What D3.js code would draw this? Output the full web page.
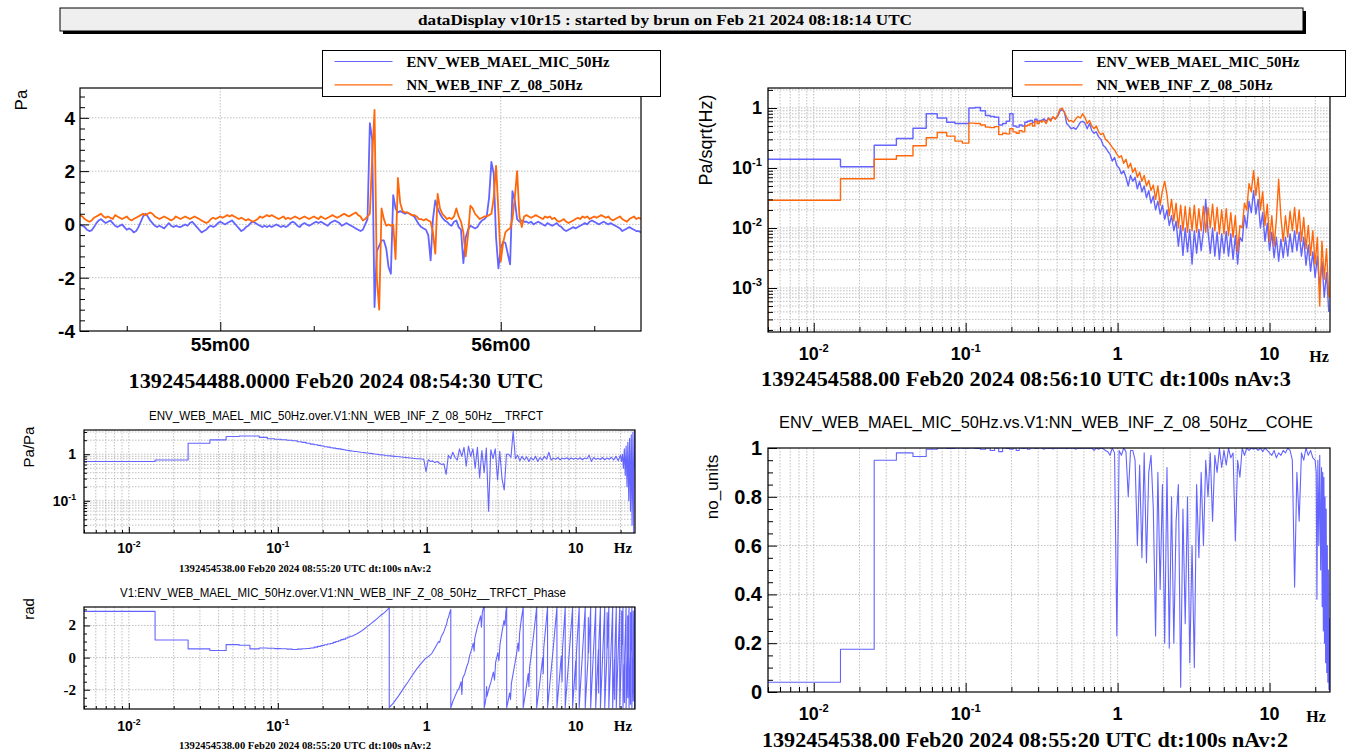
<!DOCTYPE html>
<html>
<head>
<meta charset="utf-8">
<script src="https://cdn.jsdelivr.net/npm/d3@7"></script>
<style>
  body { margin: 0; background: #fff; }
  svg { display: block; }
</style>
</head>
<body>
<svg id="chart" width="1348" height="754"></svg>
<script>
// ---------------- time series (Pa), 0.5 s sampling from 08:54:30 UTC ----------------
const TS_STEP = 0.5;
const micPa = [
  0.0,-0.05,-0.1,-0.2,-0.25,-0.22,-0.1,0.05,0.15,0.2,
  0.12,0.05,0.1,0.15,0.05,-0.05,-0.1,-0.05,0.0,-0.1,
  -0.2,-0.15,-0.2,-0.3,-0.25,-0.1,0.1,0.3,0.4,0.3,
  0.15,0.05,-0.05,-0.1,-0.05,-0.1,-0.15,-0.05,0.05,-0.05,
  -0.1,-0.05,-0.08,-0.1,-0.05,0.0,-0.05,0.05,0.1,0.0,
  -0.1,-0.2,-0.3,-0.25,-0.2,-0.1,-0.05,-0.1,-0.05,0.05,
  0.1,0.05,0.0,0.05,0.1,0.15,0.05,-0.05,-0.15,-0.25,
  -0.2,-0.1,-0.05,0.05,0.1,0.05,0.0,-0.05,-0.1,-0.05,
  -0.1,-0.05,-0.1,-0.05,0.0,-0.05,-0.1,-0.05,-0.1,-0.05,
  0.05,0.1,0.05,-0.05,-0.1,0.0,0.05,0.0,-0.05,0.0,
  0.05,0.1,0.05,0.1,0.05,0.0,-0.05,0.05,0.1,0.15,
  0.1,0.05,-0.05,0.0,0.05,0.0,-0.05,-0.1,-0.15,-0.2,
  -0.25,-0.2,0.0,0.2,3.8,3.2,-3.1,-1.0,-0.8,-0.6,
  -0.6,-0.9,-1.6,-1.85,1.1,0.6,0.45,0.5,0.45,0.4,
  0.45,0.4,0.35,0.3,0.15,0.0,-0.1,-0.15,-0.2,-0.4,
  -1.35,0.2,0.9,0.6,0.4,0.25,0.15,0.1,0.0,-0.05,
  0.1,0.15,-0.1,-0.2,-1.45,-0.5,-0.2,-0.05,-0.1,-0.15,
  -0.1,0.05,0.15,0.2,0.3,1.0,2.35,1.9,-0.5,-1.65,
  -0.9,-0.65,-0.7,-1.1,-1.5,1.25,0.9,0.2,0.1,0.15,
  0.1,0.1,0.05,0.1,0.0,0.05,0.1,0.05,0.0,-0.05,
  0.05,0.0,-0.05,0.0,0.05,-0.05,-0.1,-0.2,-0.25,-0.2,
  -0.15,-0.1,-0.15,-0.1,-0.05,0.0,0.05,0.0,0.1,0.15,
  0.1,0.05,0.0,0.05,0.1,0.05,0.0,0.05,0.0,-0.05,
  -0.1,-0.15,-0.25,-0.2,-0.15,-0.1,-0.15,-0.2,-0.25,-0.25,
  -0.3
];
const nnPa = [
  0.35,0.3,0.2,0.15,0.1,0.15,0.25,0.3,0.35,0.4,
  0.3,0.25,0.3,0.25,0.2,0.35,0.3,0.25,0.2,0.25,
  0.3,0.2,0.15,0.2,0.25,0.3,0.35,0.4,0.35,0.4,
  0.45,0.4,0.3,0.25,0.2,0.25,0.3,0.25,0.2,0.15,
  0.2,0.3,0.25,0.2,0.25,0.3,0.25,0.2,0.25,0.3,
  0.25,0.2,0.15,0.1,0.05,0.1,0.2,0.25,0.2,0.25,
  0.3,0.25,0.3,0.35,0.3,0.35,0.3,0.25,0.2,0.25,
  0.2,0.15,0.2,0.15,0.1,0.15,0.2,0.3,0.25,0.3,
  0.35,0.3,0.35,0.3,0.25,0.2,0.25,0.3,0.2,0.25,
  0.2,0.25,0.3,0.25,0.2,0.25,0.3,0.25,0.2,0.25,
  0.3,0.25,0.2,0.3,0.25,0.2,0.25,0.3,0.35,0.3,
  0.25,0.3,0.35,0.4,0.35,0.3,0.35,0.4,0.45,0.35,
  0.3,0.15,0.2,0.3,0.4,2.5,4.3,-2.0,-3.2,0.6,
  0.2,-0.05,0.0,-0.05,0.0,-1.3,1.75,0.8,0.5,0.45,
  0.45,0.4,0.35,0.35,0.3,0.2,0.2,0.15,0.2,0.15,
  0.1,-0.3,-1.1,1.15,0.6,0.4,0.3,0.2,0.25,0.2,
  0.3,0.6,0.3,0.1,-0.3,-1.2,-0.4,0.7,0.6,0.4,
  0.3,0.2,0.25,0.3,0.3,0.35,0.4,1.0,2.2,0.5,
  -1.4,-0.7,-0.3,-0.2,-0.15,0.2,1.0,2.0,0.3,-0.1,
  0.3,0.35,0.3,0.25,0.3,0.35,0.3,0.25,0.2,0.3,
  0.25,0.3,0.2,0.25,0.15,0.1,0.15,0.2,0.1,0.05,
  0.1,0.15,0.2,0.25,0.2,0.3,0.25,0.3,0.2,0.25,
  0.3,0.25,0.3,0.35,0.3,0.25,0.3,0.2,0.15,0.2,
  0.25,0.3,0.2,0.15,0.1,0.2,0.25,0.3,0.2,0.25,
  0.2
];
const timeMajorSec = [30, 90];
const timeMajorLabels = ["55m00", "56m00"];
const timeMinorSec = [10, 50, 70, 110];

// ---------------- spectra ----------------
// Low-frequency part: one value per 0.01 Hz bin (index = bin number, null = not drawn).
// Upper part: values on a log-spaced frequency grid starting at 10^-0.5 Hz, 0.015 decade apart.
const BIN_HZ = 0.01;
const GRID_LOG0 = -0.5, GRID_DLOG = 0.015;

const asdMicLow = [null,
  0.14,0.105,0.24,0.31,0.46,0.8,0.68,0.58,0.55,0.55,
  1.0,1.02,0.9,0.75,0.72,0.7,0.52,0.55,0.6,0.8,
  0.5,0.48,0.52,0.5,0.58,0.6,0.62,0.58,0.65,0.6,
  0.62];
const asdMicGrid = [
  0.62,0.66,0.6,0.68,0.64,0.7,0.66,0.72,0.88,0.94,
  0.85,0.55,0.5,0.45,0.47,0.44,0.5,0.58,0.6,0.56,
  0.45,0.55,0.42,0.38,0.4,0.33,0.3,0.24,0.22,0.19,
  0.17,0.13,0.15,0.11,0.1,0.08,0.09,0.07,0.05,0.075,
  0.06,0.07,0.045,0.06,0.04,0.05,0.032,0.042,0.026,0.034,
  0.02,0.028,0.017,0.024,0.014,0.02,0.011,0.016,0.009,0.013,
  0.005,0.011,0.0035,0.01,0.004,0.0095,0.0025,0.009,0.0038,0.0095,
  0.0042,0.009,0.03,0.0088,0.0038,0.01,0.0034,0.0085,0.003,0.008,
  0.0038,0.0088,0.0034,0.008,0.003,0.0075,0.0025,0.007,0.006,0.016,
  0.01,0.028,0.018,0.042,0.017,0.03,0.01,0.018,0.006,0.012,
  0.0042,0.0085,0.0032,0.007,0.0028,0.0065,0.0032,0.007,0.0034,0.008,
  0.004,0.009,0.0042,0.0085,0.0034,0.007,0.0024,0.0052,0.0019,0.004,
  0.0015,0.0034,0.001,0.0028,0.0007,0.0018,0.0004];

const asdNnLow = [1e-5,
  0.029,0.066,0.14,0.16,0.235,0.32,0.39,0.34,0.28,0.26,
  0.56,0.55,0.52,0.48,0.47,0.49,0.36,0.38,0.37,0.45,
  0.4,0.38,0.42,0.4,0.5,0.52,0.55,0.5,0.6,0.55,
  0.6];
const asdNnGrid = [
  0.58,0.62,0.55,0.68,0.6,0.72,0.65,0.75,0.95,1.0,
  0.85,0.7,0.6,0.62,0.58,0.66,0.72,0.68,0.8,0.7,
  0.55,0.62,0.5,0.45,0.5,0.4,0.36,0.38,0.3,0.28,
  0.25,0.22,0.2,0.17,0.15,0.16,0.12,0.14,0.1,0.12,
  0.085,0.1,0.07,0.085,0.06,0.075,0.05,0.062,0.042,0.052,
  0.03,0.05,0.024,0.042,0.06,0.036,0.016,0.03,0.013,0.026,
  0.01,0.024,0.009,0.023,0.0085,0.022,0.009,0.024,0.0085,0.021,
  0.009,0.023,0.0085,0.022,0.01,0.025,0.009,0.022,0.008,0.02,
  0.008,0.021,0.0075,0.018,0.007,0.016,0.004,0.011,0.01,0.026,
  0.02,0.055,0.04,0.09,0.035,0.07,0.02,0.04,0.011,0.025,
  0.006,0.016,0.005,0.014,0.065,0.015,0.006,0.016,0.007,0.019,
  0.009,0.022,0.008,0.02,0.006,0.015,0.0045,0.011,0.0035,0.009,
  0.0025,0.007,0.0005,0.006,0.0014,0.0045,0.0007];

// transfer function magnitude (Pa/Pa)
const tfMagLow = [null,
  0.7,0.75,1.72,2.03,2.4,2.47,2.47,2.3,2.15,2.1,
  2.05,2.0,1.95,1.85,1.8,1.72,1.65,1.6,1.55,1.5,
  1.45,1.42,1.38,1.35,1.32,1.3,1.27,1.25,1.22,1.2,
  1.18];
const tfMagGrid = [
  1.17,1.15,1.14,1.12,1.1,1.09,1.07,1.06,1.04,1.03,
  1.01,1.0,0.98,0.97,0.96,0.94,0.93,0.92,0.91,0.9,
  0.89,0.88,0.87,0.86,0.85,0.84,0.83,0.82,0.81,0.8,
  0.8,0.79,0.78,0.42,0.76,0.7,0.72,0.66,0.7,0.64,
  0.6,0.62,0.37,0.95,0.8,1.1,0.85,0.75,1.3,0.9,
  1.4,0.55,1.5,0.9,1.3,0.5,1.4,0.31,1.2,0.4,
  1.35,0.06,1.25,0.8,1.3,0.28,1.15,0.3,0.17,1.0,
  1.0,0.85,3.1,0.8,0.95,0.72,0.9,0.75,0.88,0.7,
  0.85,0.75,0.9,0.7,0.85,0.75,0.9,0.78,1.1,0.75,
  0.82,0.78,0.85,0.76,0.82,0.79,0.84,0.77,0.83,0.78,
  0.82,0.78,0.84,0.76,0.83,0.8,0.95,0.7,0.85,0.78,
  0.82,0.77,0.85,0.76,0.83,0.78,0.86,0.75,0.9,0.72,
  0.95];
const tfMagTail = [[20.3,0.7],[20.6,1.0],[20.9,0.5],[21.2,1.3],[21.5,0.35],[21.8,1.5],[22.1,0.2],[22.4,1.8],
  [22.7,0.1],[23.0,2.2],[23.3,0.06],[23.6,2.6],[23.9,0.03],[24.2,3.0],[24.5,0.02],[24.8,3.2],[25.0,0.5]];

// transfer function phase (rad)
const tfPhaseLow = [null,
  2.88,1.1,0.54,0.44,0.81,0.77,0.54,0.6,0.58,0.56,
  0.55,0.53,0.5,0.53,0.55,0.57,0.6,0.65,0.7,0.75,
  0.8,0.85,0.88,0.95,1.0,1.05,1.12,1.15,1.22,1.28,
  1.33];
const tfPhaseHigh = [
  [0.32,1.36],[0.34,1.48],[0.36,1.62],[0.38,1.78],[0.4,1.94],[0.42,2.1],[0.44,2.25],[0.46,2.4],[0.48,2.55],
  [0.5,2.68],[0.52,2.8],[0.54,2.95],[0.56,3.1],[0.56,-3.12],
  [0.6,-2.8],[0.65,-2.35],[0.7,-1.9],[0.75,-1.5],[0.8,-1.1],[0.85,-0.75],[0.9,-0.45],[0.95,-0.2],[0.98,-0.05],
  [1.0,0.0],[1.02,0.05],[1.05,0.15],[1.08,0.25],[1.12,0.5],[1.16,0.75],[1.2,1.0],[1.22,0.95],[1.25,1.3],
  [1.3,1.6],[1.33,1.85],[1.36,2.1],[1.38,2.4],[1.4,2.5],[1.42,2.75],[1.45,3.0],[1.45,-3.12],
  [1.5,-2.7],[1.55,-2.4],[1.6,-2.1],[1.65,-1.9],[1.7,-1.5],[1.72,-2.3],[1.74,-1.3],[1.8,-1.0],[1.85,-0.6],
  [1.9,-0.3],[1.95,0.2],[2.0,0.5],[2.05,0.9],[2.08,0.4],[2.1,1.2],[2.15,1.6],[2.2,2.0],[2.25,2.3],[2.3,2.6],
  [2.33,1.9],[2.36,2.8],[2.4,3.1],[2.43,3.14],[2.43,-3.12],
  [2.46,-2.9],[2.5,-2.5],[2.52,-1.8],[2.54,-2.4],[2.6,-2.0],[2.7,-1.5],[2.8,-0.9],[2.85,-1.4],[2.9,-0.3],
  [3.0,0.3],[3.05,-0.2],[3.1,0.8],[3.2,1.6],[3.3,2.3],[3.35,2.0],[3.4,2.9],[3.44,3.14],[3.44,-3.12],
  [3.5,-2.8],[3.6,-2.2],[3.65,-2.6],[3.7,-1.6],[3.8,-1.0],[3.9,-0.4],[4.0,0.2],[4.1,0.9],[4.15,0.4],
  [4.2,1.5],[4.3,2.3],[4.44,3.14],[4.44,-3.12],
  [4.6,-2.2],[4.8,-1.0],[4.85,-1.8],[4.9,-0.6],[5.0,0.0],[5.2,1.3],[5.47,3.14],[5.47,-3.12],
  [5.7,-1.8],[6.0,0.0],[6.05,-1.0],[6.1,0.6],[6.47,3.14],[6.47,-3.12],
  [7.0,0.2],[7.48,3.14],[7.48,-3.12],
  [8.0,0.1],[8.1,-1.5],[8.15,0.5],[8.5,3.14],[8.5,-3.12],
  [9.53,3.14],[9.53,-3.12],
  [10.0,-0.2],[10.05,-2.0],[10.1,0.2],[10.55,3.14],[10.55,-3.12],
  [11.58,3.14],[11.58,-3.12],
  [12.1,0.0],[12.15,2.5],[12.2,0.3],[12.6,3.14],[12.6,-3.12],
  [13.62,3.14],[13.62,-3.12],
  [14.2,0.5],[14.25,-2.2],[14.3,0.9],[14.65,3.14],[14.65,-3.12],
  [15.66,3.14],[15.66,-3.12],
  [16.2,0.2],[16.25,2.8],[16.3,0.6],[16.68,3.14],[16.68,-3.12],
  [17.7,3.14],[17.7,-3.12],
  [18.2,-0.1],[18.25,-2.6],[18.3,0.3],[18.72,3.14],[18.72,-3.12],
  [19.74,3.14],[19.74,-3.12],
  [20.3,0.4],[20.35,2.9],[20.4,0.8],[20.76,3.14],[20.76,-3.12],
  [21.2,-0.4],[21.25,-2.8],[21.3,0.0],[21.78,3.14],[21.78,-3.12],
  [22.3,0.2],[22.33,2.6],[22.36,-2.5],[22.4,0.6],[22.8,3.14],[22.8,-3.12],
  [23.3,0.0],[23.33,-2.9],[23.36,2.8],[23.4,0.4],[23.82,3.14],[23.82,-3.12],
  [24.3,0.3],[24.33,2.9],[24.36,-2.7],[24.84,3.14],[24.84,-3.12],[25.0,-2.9]
];

// coherence
const coheLow = [null,
  0.04,0.175,0.95,0.98,0.965,0.995,1.0,0.998,1.0,0.999,
  1.0,0.998,0.995,1.0,0.99,1.0,0.985,1.0,0.998,0.995,
  1.0,0.99,1.0,0.998,1.0,0.995,1.0,1.0,0.998,1.0,
  1.0];
const coheGrid = [
  1,0.995,1,0.998,1,0.996,1,0.999,1,0.998,
  1,0.997,1,0.999,1,0.995,1,0.998,1,0.999,
  1,0.998,1,0.99,1,0.995,1,0.997,0.99,0.985,
  0.97,1,0.98,0.23,0.99,0.97,1,0.985,0.8,0.99,
  0.99,0.95,0.6,0.93,0.55,0.98,0.53,0.9,0.97,0.75,
  0.23,0.9,0.42,0.85,0.2,0.92,0.18,0.8,0.2,0.7,
  0.85,0.02,0.75,0.28,0.8,0.12,0.6,0.1,0.85,0.55,
  0.9,0.6,0.95,0.8,0.98,0.7,0.97,0.9,1.0,0.92,
  0.99,0.93,1.0,0.96,0.98,0.62,0.95,0.88,1.0,0.97,
  1.0,0.99,1.0,0.995,1.0,0.99,1.0,0.985,1.0,0.99,
  0.98,0.97,0.99,0.96,0.98,0.97,0.99,0.98,1.0,0.99,
  0.95,0.43,0.9,0.7,0.98,0.95,1.0,0.97,0.99,0.96,
  0.95];
const coheTail = [[20.3,0.9],[20.5,0.38],[20.8,0.95],[21.1,0.6],[21.4,0.97],[21.7,0.5],[22.0,0.92],[22.2,0.35],
  [22.4,0.9],[22.6,0.25],[22.8,0.88],[23.0,0.2],[23.2,0.8],[23.4,0.12],[23.6,0.75],[23.8,0.08],[24.0,0.6],
  [24.2,0.04],[24.4,0.5],[24.6,0.01],[24.8,0.3],[25.0,0.0]];

// ---------------- drawing ----------------
const svg = d3.select("#chart");
const SERIF = '"Liberation Serif","DejaVu Serif","Times New Roman",serif';
const SANS = '"Liberation Sans","DejaVu Sans",Arial,sans-serif';
const BLUE = "#6464ff", ORANGE = "#ff680a", GRIDC = "#b8b8b8";
const FREQ_DOMAIN = [0.005, 25];

function text(x, y, str, o = {}) {
  const t = svg.append("text").attr("x", x).attr("y", y)
    .attr("font-family", o.family || SANS).attr("font-size", o.size || 14)
    .attr("font-weight", o.bold ? "bold" : "normal")
    .attr("text-anchor", o.anchor || "middle").attr("fill", "#000").text(str);
  if (o.len) t.attr("textLength", o.len).attr("lengthAdjust", "spacingAndGlyphs");
  if (o.rotate) t.attr("transform", `rotate(-90 ${x} ${y})`);
  return t;
}
function powText(x, y, v, size, anchor) {
  const t = svg.append("text").attr("x", x).attr("y", y).attr("font-family", SANS)
    .attr("font-weight", "bold").attr("font-size", size).attr("text-anchor", anchor).attr("fill", "#000");
  const e = Math.round(Math.log10(v));
  if (e === 0) t.text("1");
  else if (e === 1) t.text("10");
  else {
    t.append("tspan").text("10");
    t.append("tspan").attr("dy", -size * 0.42).attr("font-size", size * 0.62).text(String(e));
  }
}
function logTicks(scale) {
  const all = scale.ticks();
  const isMaj = v => Math.abs(Math.log10(v) - Math.round(Math.log10(v))) < 1e-9;
  return { all, major: all.filter(isMaj), minor: all.filter(v => !isMaj(v)) };
}
let clipCount = 0;
function makePad(p) {
  const g = svg.append("g");
  const grid = g.append("g").attr("stroke", GRIDC).attr("stroke-width", 0.9).attr("stroke-dasharray", "1.5,1.5");
  grid.selectAll("line.gx").data(p.xGrid).join("line").attr("class", "gx")
    .attr("x1", d => p.x(d)).attr("x2", d => p.x(d)).attr("y1", p.y0).attr("y2", p.y1);
  grid.selectAll("line.gy").data(p.yGrid).join("line").attr("class", "gy")
    .attr("y1", d => p.y(d)).attr("y2", d => p.y(d)).attr("x1", p.x0).attr("x2", p.x1);
  const id = "pad" + (clipCount++);
  svg.append("clipPath").attr("id", id).append("rect")
    .attr("x", p.x0).attr("y", p.y0).attr("width", p.x1 - p.x0).attr("height", p.y1 - p.y0);
  const plot = g.append("g").attr("clip-path", `url(#${id})`);
  return { g, plot };
}
function finishPad(g, p) {
  const ax = (gen, tr) => {
    const a = g.append("g").attr("transform", tr).call(gen);
    a.select(".domain").remove();
    a.selectAll("text").remove();
    a.selectAll("line").attr("stroke", "#000");
  };
  ax(d3.axisBottom(p.x).tickValues(p.xMajor).tickSize(-p.tMaj), `translate(0,${p.y1})`);
  ax(d3.axisBottom(p.x).tickValues(p.xMinor).tickSize(-p.tMin), `translate(0,${p.y1})`);
  ax(d3.axisLeft(p.y).tickValues(p.yMajor).tickSize(-p.tMaj), `translate(${p.x0},0)`);
  ax(d3.axisLeft(p.y).tickValues(p.yMinor).tickSize(-p.tMin), `translate(${p.x0},0)`);
  g.append("rect").attr("x", p.x0).attr("y", p.y0).attr("width", p.x1 - p.x0).attr("height", p.y1 - p.y0)
    .attr("fill", "none").attr("stroke", "#000").attr("stroke-width", 1.2);
}
function drawLine(plot, pts, x, y, color, w) {
  plot.append("path").datum(pts).attr("fill", "none").attr("stroke", color)
    .attr("stroke-width", w).attr("stroke-linejoin", "round")
    .attr("d", d3.line().x(d => x(d[0])).y(d => y(d[1])));
}
function spectrumPoints(low, grid, tail) {
  const pts = [];
  low.forEach((v, k) => {
    if (v == null) return;
    const fc = k * BIN_HZ;
    pts.push([Math.max(fc - BIN_HZ / 2, FREQ_DOMAIN[0]), v], [fc + BIN_HZ / 2, v]);
  });
  (grid || []).forEach((v, i) => pts.push([Math.pow(10, GRID_LOG0 + GRID_DLOG * i), v]));
  (tail || []).forEach(d => pts.push(d));
  return pts;
}
function freqLabels(p, base, size) {
  p.xMajor.forEach(v => powText(p.x(v), base, v, size, "middle"));
}

// ---- title bar ----
svg.append("rect").attr("x", 63).attr("y", 11).attr("width", 1243).attr("height", 23).attr("fill", "#000");
svg.append("rect").attr("x", 60).attr("y", 8).attr("width", 1243).attr("height", 23)
  .attr("fill", "#efefef").attr("stroke", "#000").attr("stroke-width", 1);
text(665, 25, "dataDisplay v10r15 : started by brun on Feb 21 2024 08:18:14 UTC",
  { family: SERIF, bold: true, size: 15, len: 494 });

// ---- pad 1: time series ----
{
  const p = { x0: 80, x1: 641, y0: 88, y1: 331, tMaj: 9, tMin: 5 };
  p.x = d3.scaleLinear().domain([0, 120]).range([p.x0, p.x1]);
  p.y = d3.scaleLinear().domain([-4, 5.12]).range([p.y1, p.y0]);
  p.xMajor = timeMajorSec; p.xMinor = timeMinorSec;
  const yAll = d3.range(23).map(i => -4 + 0.4 * i);
  p.yMajor = yAll.filter((v, i) => i % 5 === 0);
  p.yMinor = yAll.filter((v, i) => i % 5 !== 0);
  p.xGrid = timeMajorSec; p.yGrid = [-2, 0, 2, 4];
  const { g, plot } = makePad(p);
  drawLine(plot, micPa.map((v, i) => [i * TS_STEP, v]), p.x, p.y, BLUE, 1.8);
  drawLine(plot, nnPa.map((v, i) => [i * TS_STEP, v]), p.x, p.y, ORANGE, 1.8);
  finishPad(g, p);
  timeMajorSec.forEach((t, i) => text(p.x(t), 351, timeMajorLabels[i], { bold: true, size: 19 }));
  p.yMajor.forEach(v => text(75, p.y(v) + 7, String(Math.round(v)), { bold: true, size: 19, anchor: "end" }));
  text(27, 100, "Pa", { size: 17, rotate: true });
  text(336, 388, "1392454488.0000 Feb20 2024 08:54:30 UTC", { family: SERIF, bold: true, size: 21, len: 415 });
}

// ---- pad 2: amplitude spectral density ----
{
  const p = { x0: 768, x1: 1330, y0: 88, y1: 332, tMaj: 9, tMin: 5 };
  p.x = d3.scaleLog().domain(FREQ_DOMAIN).range([p.x0, p.x1]);
  p.y = d3.scaleLog().domain([Math.pow(10, -3.733), Math.pow(10, 0.333)]).range([p.y1, p.y0]);
  const xt = logTicks(p.x), yt = logTicks(p.y);
  p.xMajor = xt.major; p.xMinor = xt.minor; p.yMajor = yt.major; p.yMinor = yt.minor;
  p.xGrid = xt.all; p.yGrid = yt.all;
  const { g, plot } = makePad(p);
  drawLine(plot, spectrumPoints(asdMicLow, asdMicGrid), p.x, p.y, BLUE, 1.4);
  drawLine(plot, spectrumPoints(asdNnLow, asdNnGrid), p.x, p.y, ORANGE, 1.4);
  finishPad(g, p);
  freqLabels(p, 360, 18);
  p.yMajor.forEach(v => powText(762, p.y(v) + 6, v, 18, "end"));
  text(1319, 362, "Hz", { family: SERIF, bold: true, size: 16 });
  text(712, 140, "Pa/sqrt(Hz)", { size: 18, rotate: true });
  text(1026, 386, "1392454588.00 Feb20 2024 08:56:10 UTC dt:100s nAv:3", { family: SERIF, bold: true, size: 21, len: 530 });
}

// ---- pad 3: transfer function magnitude ----
{
  const p = { x0: 84, x1: 635, y0: 430, y1: 533, tMaj: 6, tMin: 3 };
  p.x = d3.scaleLog().domain(FREQ_DOMAIN).range([p.x0, p.x1]);
  p.y = d3.scaleLog().domain([Math.pow(10, -1.692), Math.pow(10, 0.52)]).range([p.y1, p.y0]);
  const xt = logTicks(p.x), yt = logTicks(p.y);
  p.xMajor = xt.major; p.xMinor = xt.minor; p.yMajor = yt.major; p.yMinor = yt.minor;
  p.xGrid = xt.all; p.yGrid = yt.all;
  const { g, plot } = makePad(p);
  drawLine(plot, spectrumPoints(tfMagLow, tfMagGrid, tfMagTail), p.x, p.y, BLUE, 1.1);
  finishPad(g, p);
  freqLabels(p, 553, 14);
  p.yMajor.forEach(v => powText(76, p.y(v) + 5, v, 14, "end"));
  text(623, 553, "Hz", { family: SERIF, bold: true, size: 15 });
  text(34, 447, "Pa/Pa", { size: 15, rotate: true });
  text(346, 420, "ENV_WEB_MAEL_MIC_50Hz.over.V1:NN_WEB_INF_Z_08_50Hz__TRFCT", { size: 12.5, len: 394 });
  text(305, 572, "1392454538.00 Feb20 2024 08:55:20 UTC dt:100s nAv:2", { family: SERIF, bold: true, size: 10, len: 252 });
}

// ---- pad 4: transfer function phase ----
{
  const p = { x0: 84, x1: 635, y0: 607, y1: 709, tMaj: 6, tMin: 3 };
  p.x = d3.scaleLog().domain(FREQ_DOMAIN).range([p.x0, p.x1]);
  p.y = d3.scaleLinear().domain([-3.2, 3.15]).range([p.y1, p.y0]);
  const xt = logTicks(p.x);
  p.xMajor = xt.major; p.xMinor = xt.minor;
  p.yMajor = [-2, 0, 2]; p.yMinor = [-3, -2.5, -1.5, -1, -0.5, 0.5, 1, 1.5, 2.5, 3];
  p.xGrid = xt.all; p.yGrid = [-2, 0, 2];
  const { g, plot } = makePad(p);
  drawLine(plot, spectrumPoints(tfPhaseLow, null, tfPhaseHigh), p.x, p.y, BLUE, 1.1);
  finishPad(g, p);
  freqLabels(p, 731, 14);
  p.yMajor.forEach(v => text(76, p.y(v) + 5, String(v), { family: SERIF, bold: true, size: 15, anchor: "end" }));
  text(623, 731, "Hz", { family: SERIF, bold: true, size: 15 });
  text(34, 609, "rad", { size: 15, rotate: true });
  text(343, 597, "V1:ENV_WEB_MAEL_MIC_50Hz.over.V1:NN_WEB_INF_Z_08_50Hz__TRFCT_Phase", { size: 12.5, len: 446 });
  text(305, 749, "1392454538.00 Feb20 2024 08:55:20 UTC dt:100s nAv:2", { family: SERIF, bold: true, size: 10, len: 252 });
}

// ---- pad 5: coherence ----
{
  const p = { x0: 768, x1: 1330, y0: 448, y1: 692, tMaj: 9, tMin: 5 };
  p.x = d3.scaleLog().domain(FREQ_DOMAIN).range([p.x0, p.x1]);
  p.y = d3.scaleLinear().domain([0, 1]).range([p.y1, p.y0]);
  const xt = logTicks(p.x);
  const yAll = d3.range(21).map(i => i / 20);
  p.xMajor = xt.major; p.xMinor = xt.minor;
  p.yMajor = yAll.filter((v, i) => i % 4 === 0); p.yMinor = yAll.filter((v, i) => i % 4 !== 0);
  p.xGrid = xt.all; p.yGrid = [0.2, 0.4, 0.6, 0.8];
  const { g, plot } = makePad(p);
  drawLine(plot, spectrumPoints(coheLow, coheGrid, coheTail), p.x, p.y, BLUE, 1.1);
  finishPad(g, p);
  freqLabels(p, 720, 18);
  p.yMajor.forEach(v => text(762, p.y(v) + 7, v === 0 || v === 1 ? String(v) : v.toFixed(1), { bold: true, size: 20, anchor: "end" }));
  text(1316, 722, "Hz", { family: SERIF, bold: true, size: 16 });
  text(718, 487, "no_units", { size: 17, rotate: true });
  text(1046, 428, "ENV_WEB_MAEL_MIC_50Hz.vs.V1:NN_WEB_INF_Z_08_50Hz__COHE", { size: 16, len: 534 });
  text(1025, 747, "1392454538.00 Feb20 2024 08:55:20 UTC dt:100s nAv:2", { family: SERIF, bold: true, size: 21, len: 526 });
}

// ---- legends ----
function legend(x0, y0, w, h) {
  svg.append("rect").attr("x", x0).attr("y", y0).attr("width", w).attr("height", h)
    .attr("fill", "#fff").attr("stroke", "#000").attr("stroke-width", 1);
  const rows = [
    { name: "ENV_WEB_MAEL_MIC_50Hz", color: BLUE, dy: 11, len: 203 },
    { name: "NN_WEB_INF_Z_08_50Hz", color: ORANGE, dy: 34.3, len: 176 }
  ];
  rows.forEach(r => {
    svg.append("line").attr("x1", x0 + 12).attr("x2", x0 + 70).attr("y1", y0 + r.dy).attr("y2", y0 + r.dy)
      .attr("stroke", r.color).attr("stroke-width", 1.2);
    text(x0 + 84, y0 + r.dy + 5, r.name, { family: SERIF, bold: true, size: 15, anchor: "start", len: r.len });
  });
}
legend(322.5, 50.5, 338, 46);
legend(1012.5, 50.5, 333, 46);
</script>
</body>
</html>
